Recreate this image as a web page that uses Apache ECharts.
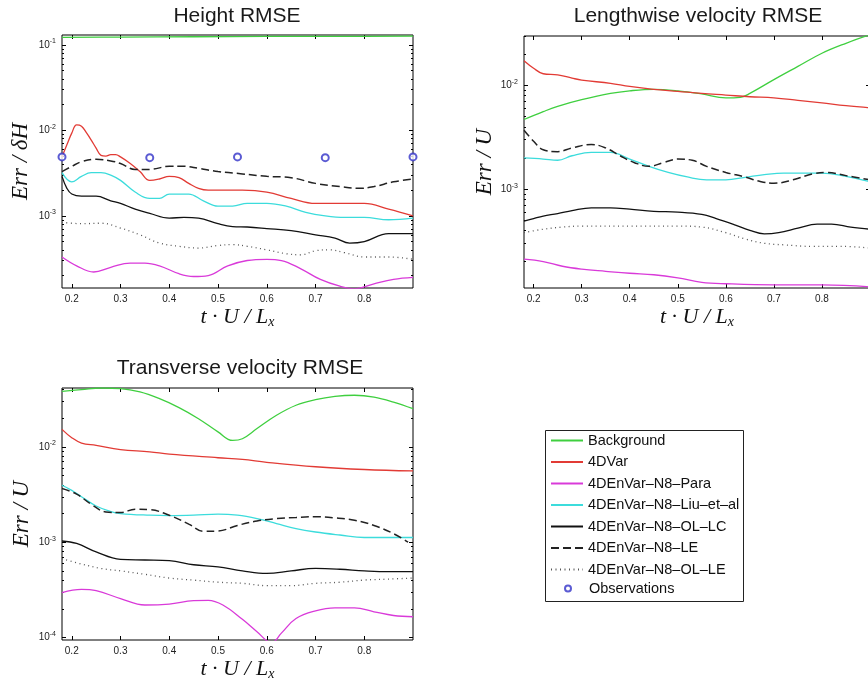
<!DOCTYPE html>
<html>
<head>
<meta charset="utf-8"/>
<title>RMSE</title>
<style>
    html, body { margin: 0; padding: 0; background: #fff; overflow: hidden; }
    #main { width: 880px; height: 685px; }
</style>
</head>
<body>
<div id="main"></div>
<script src="https://cdn.jsdelivr.net/npm/echarts@6/dist/echarts.min.js"></script>
<script>
    // series names, same order in every panel
    var names = ['Background', '4DVar', '4DEnVar–N8–Para', '4DEnVar–N8–Liu–et–al',
        '4DEnVar–N8–OL–LC', '4DEnVar–N8–LE', '4DEnVar–N8–OL–LE', 'Observations'];
    var xTicks = [0.2, 0.3, 0.4, 0.5, 0.6, 0.7, 0.8];

    // ---- Height RMSE  [t*U/Lx, Err/dH] ----
    var hBack = [[0.18,0.123],[0.30,0.124],[0.45,0.125],[0.60,0.126],[0.75,0.126],[0.90,0.127]];
    var hVar = [[0.18,0.0049],[0.19,0.0068],[0.20,0.0093],[0.21,0.0116],[0.22,0.0112],[0.23,0.0094],[0.24,0.0077],[0.25,0.0062],[0.26,0.0051],[0.27,0.0050],[0.28,0.0052],[0.29,0.0052],[0.30,0.0049],[0.32,0.0041],[0.34,0.0033],[0.36,0.0026],[0.38,0.0027],[0.40,0.0029],[0.42,0.0028],[0.44,0.0024],[0.46,0.0021],[0.48,0.0020],[0.50,0.0020],[0.55,0.0020],[0.60,0.0019],[0.65,0.0016],[0.70,0.0014],[0.75,0.0014],[0.80,0.0014],[0.85,0.0012],[0.90,0.0010]];
    var hPara = [[0.18,0.00033],[0.21,0.00026],[0.245,0.00022],[0.28,0.00025],[0.32,0.00028],[0.35,0.00028],[0.38,0.00026],[0.42,0.00021],[0.45,0.000195],[0.48,0.00020],[0.52,0.00026],[0.56,0.00030],[0.60,0.00031],[0.63,0.00030],[0.67,0.00024],[0.71,0.00018],[0.75,0.00015],[0.78,0.00014],[0.82,0.00016],[0.86,0.00018],[0.90,0.00019]];
    var hLiu = [[0.18,0.0032],[0.20,0.0025],[0.22,0.0029],[0.24,0.0032],[0.26,0.0032],[0.28,0.0030],[0.30,0.0026],[0.33,0.0019],[0.36,0.0016],[0.38,0.0016],[0.40,0.0018],[0.42,0.0018],[0.44,0.0018],[0.47,0.0015],[0.50,0.0013],[0.53,0.0013],[0.56,0.0014],[0.60,0.0014],[0.64,0.0013],[0.68,0.0011],[0.72,0.0010],[0.76,0.00096],[0.80,0.00096],[0.85,0.00090],[0.90,0.00094]];
    var hOLLC = [[0.18,0.0029],[0.19,0.0021],[0.20,0.0018],[0.22,0.0017],[0.25,0.0017],[0.28,0.0015],[0.30,0.0014],[0.33,0.0012],[0.36,0.00107],[0.40,0.00094],[0.43,0.00096],[0.46,0.00094],[0.50,0.00081],[0.53,0.00075],[0.56,0.00074],[0.60,0.00071],[0.65,0.00067],[0.70,0.00060],[0.74,0.00055],[0.77,0.00048],[0.80,0.00050],[0.85,0.00062],[0.90,0.00062]];
    var hLE = [[0.18,0.0033],[0.20,0.0038],[0.22,0.0043],[0.25,0.0046],[0.28,0.0044],[0.30,0.0041],[0.33,0.0035],[0.36,0.0035],[0.40,0.0038],[0.43,0.0038],[0.46,0.0036],[0.50,0.0033],[0.55,0.0031],[0.60,0.0029],[0.65,0.0028],[0.70,0.0024],[0.75,0.0022],[0.79,0.0021],[0.82,0.0022],[0.86,0.0025],[0.90,0.0027]];
    var hOLLE = [[0.18,0.00084],[0.22,0.00081],[0.26,0.00082],[0.30,0.00072],[0.34,0.00060],[0.38,0.00048],[0.42,0.00044],[0.46,0.00042],[0.50,0.00045],[0.53,0.00046],[0.56,0.00044],[0.60,0.00040],[0.64,0.00036],[0.67,0.00035],[0.70,0.00039],[0.73,0.00040],[0.76,0.00037],[0.80,0.00033],[0.85,0.00033],[0.90,0.00031]];
    var hObs = [[0.18,0.0049],[0.36,0.0048],[0.54,0.0049],[0.72,0.0048],[0.90,0.0049]];

    // ---- Lengthwise velocity RMSE  [t*U/Lx, Err/U] ----
    var uBack = [[0.18,0.0047],[0.22,0.0056],[0.25,0.0063],[0.30,0.0073],[0.36,0.0084],[0.40,0.0089],[0.45,0.0092],[0.50,0.0089],[0.55,0.0083],[0.60,0.0076],[0.63,0.0077],[0.65,0.0084],[0.70,0.0114],[0.75,0.0153],[0.80,0.0205],[0.85,0.0256],[0.90,0.031]];
    var uVar = [[0.18,0.0174],[0.20,0.0147],[0.22,0.0130],[0.25,0.0127],[0.28,0.0118],[0.30,0.0113],[0.36,0.0105],[0.40,0.0098],[0.45,0.0092],[0.50,0.0088],[0.55,0.0084],[0.60,0.0081],[0.65,0.0078],[0.70,0.0076],[0.75,0.0072],[0.80,0.0068],[0.85,0.0064],[0.90,0.0061]];
    var uPara = [[0.18,0.000211],[0.22,0.000200],[0.26,0.000180],[0.30,0.000169],[0.35,0.000161],[0.40,0.000154],[0.45,0.000149],[0.50,0.000139],[0.55,0.000126],[0.60,0.000122],[0.70,0.000119],[0.80,0.000119],[0.90,0.000114]];
    var uLiu = [[0.18,0.0020],[0.22,0.00195],[0.25,0.0019],[0.28,0.0021],[0.32,0.00226],[0.36,0.00226],[0.40,0.00195],[0.44,0.00166],[0.48,0.00145],[0.52,0.00131],[0.56,0.00123],[0.60,0.00123],[0.64,0.0013],[0.68,0.00138],[0.72,0.00143],[0.76,0.00143],[0.80,0.00143],[0.85,0.00133],[0.90,0.00118]];
    var uOLLC = [[0.18,0.00049],[0.20,0.00052],[0.22,0.00055],[0.25,0.00058],[0.28,0.00062],[0.32,0.00066],[0.36,0.00066],[0.40,0.00064],[0.45,0.00061],[0.50,0.00060],[0.55,0.00057],[0.58,0.00052],[0.62,0.00045],[0.65,0.00040],[0.68,0.00037],[0.71,0.00038],[0.75,0.00042],[0.79,0.00046],[0.82,0.00046],[0.86,0.00043],[0.90,0.00041]];
    var uLE = [[0.18,0.0037],[0.20,0.0029],[0.22,0.0024],[0.25,0.0023],[0.28,0.0025],[0.32,0.0027],[0.35,0.0025],[0.38,0.0021],[0.41,0.0018],[0.44,0.00166],[0.47,0.0018],[0.50,0.00195],[0.53,0.0019],[0.56,0.00166],[0.60,0.00145],[0.64,0.00131],[0.67,0.00119],[0.70,0.00114],[0.74,0.00123],[0.78,0.0014],[0.81,0.00145],[0.85,0.00135],[0.90,0.00123]];
    var uOLLE = [[0.18,0.00038],[0.22,0.00041],[0.26,0.00043],[0.30,0.00044],[0.40,0.00044],[0.50,0.00044],[0.55,0.00043],[0.60,0.00038],[0.64,0.00033],[0.68,0.00030],[0.72,0.00029],[0.78,0.00028],[0.84,0.00028],[0.90,0.00027]];

    // ---- Transverse velocity RMSE  [t*U/Lx, Err/U] ----
    var vBack = [[0.18,0.0384],[0.22,0.040],[0.26,0.0416],[0.30,0.041],[0.34,0.0378],[0.38,0.0321],[0.42,0.0259],[0.46,0.0198],[0.50,0.0144],[0.53,0.0117],[0.55,0.0122],[0.58,0.0156],[0.62,0.0215],[0.66,0.0274],[0.70,0.0314],[0.74,0.034],[0.78,0.0349],[0.82,0.0334],[0.86,0.0296],[0.90,0.0252]];
    var vVar = [[0.18,0.0153],[0.20,0.0125],[0.22,0.0110],[0.25,0.0104],[0.30,0.0094],[0.36,0.0089],[0.40,0.0084],[0.50,0.0077],[0.55,0.0074],[0.60,0.0069],[0.70,0.0062],[0.80,0.0058],[0.90,0.0056]];
    var vPara = [[0.18,0.000296],[0.22,0.00032],[0.25,0.00031],[0.30,0.000256],[0.35,0.000219],[0.40,0.000224],[0.45,0.000243],[0.48,0.000245],[0.51,0.000219],[0.55,0.000155],[0.58,0.000115],[0.61,0.000088],[0.63,0.000111],[0.66,0.000158],[0.70,0.00019],[0.74,0.000204],[0.78,0.000204],[0.82,0.000186],[0.86,0.00017],[0.90,0.000165]];
    var vLiu = [[0.18,0.00396],[0.20,0.0035],[0.22,0.0030],[0.25,0.0024],[0.28,0.0021],[0.30,0.0020],[0.36,0.00192],[0.40,0.0019],[0.45,0.00192],[0.50,0.00197],[0.54,0.00192],[0.58,0.00177],[0.62,0.00157],[0.66,0.00139],[0.70,0.00128],[0.75,0.00119],[0.80,0.00112],[0.85,0.00112],[0.90,0.00112]];
    var vOLLC = [[0.18,0.00103],[0.21,0.00097],[0.25,0.00079],[0.30,0.00066],[0.35,0.00065],[0.40,0.00064],[0.45,0.00058],[0.50,0.00055],[0.55,0.00050],[0.60,0.00047],[0.65,0.00050],[0.70,0.00053],[0.75,0.00052],[0.80,0.00050],[0.85,0.00049],[0.90,0.00049]];
    var vLE = [[0.18,0.00366],[0.21,0.0032],[0.24,0.0025],[0.27,0.00208],[0.30,0.00205],[0.33,0.00222],[0.36,0.0022],[0.40,0.00192],[0.44,0.00155],[0.47,0.0013],[0.50,0.00131],[0.54,0.0015],[0.58,0.00167],[0.62,0.00177],[0.66,0.00182],[0.70,0.00185],[0.74,0.0018],[0.78,0.0017],[0.82,0.0015],[0.86,0.00123],[0.89,0.0010]];
    var vOLLE = [[0.18,0.00067],[0.22,0.00059],[0.26,0.00053],[0.30,0.00050],[0.35,0.00046],[0.40,0.00042],[0.45,0.00040],[0.50,0.00038],[0.55,0.00037],[0.60,0.00035],[0.65,0.00035],[0.70,0.00037],[0.75,0.00038],[0.80,0.00040],[0.85,0.00041],[0.90,0.00042]];

    var colors = ['#3fcf3f', '#e23b35', '#d93ad9', '#3cdcdc', '#111111', '#222222', '#555555'];
    var dashes = ['solid', 'solid', 'solid', 'solid', 'solid', [8, 4], [1, 3.5]];

    var panels = [
        {title: 'Height RMSE', tx: 237, ty: 6, left: 62, top: 35, width: 351, height: 253,
            ymin: 1.43e-4, ymax: 0.131, yname: 'Err / δH', ygap: 30,
            data: [hBack, hVar, hPara, hLiu, hOLLC, hLE, hOLLE], obs: hObs},
        {title: 'Lengthwise velocity RMSE', tx: 698, ty: 6, left: 524, top: 36, width: 346, height: 252,
            ymin: 1.11e-4, ymax: 0.0301, yname: 'Err / U', ygap: 21,
            data: [uBack, uVar, uPara, uLiu, uOLLC, uLE, uOLLE]},
        {title: 'Transverse velocity RMSE', tx: 240, ty: 358, left: 62, top: 388, width: 351, height: 252,
            ymin: 9.4e-5, ymax: 0.0416, yname: 'Err / U', ygap: 29,
            data: [vBack, vVar, vPara, vLiu, vOLLC, vLE, vOLLE]}
    ];

    function lg(v) { return Math.log(v) / Math.LN10; }

    // minor tick positions of a log axis (2..9 x 10^n), in log10 units
    function minorTicks(lo, hi) {
        var out = [];
        for (var n = -6; n <= 1; n++) {
            for (var k = 1; k <= 9; k++) {
                var v = lg(k) + n;
                if (v > lg(lo) && v < lg(hi)) out.push(v);
            }
        }
        return out;
    }
    function majorTicks(lo, hi) {
        var out = [];
        for (var n = -6; n <= 1; n++) {
            if (n > lg(lo) && n < lg(hi)) out.push(n);
        }
        return out;
    }

    var labelFont = 'Liberation Sans, Arial, sans-serif';
    var mathFont = 'Liberation Serif, DejaVu Serif, serif';

    var title = [], grid = [], xAxis = [], yAxis = [], series = [];

    panels.forEach(function (p, i) {
        title.push({
            text: p.title, left: p.tx, top: p.ty, textAlign: 'center', padding: 0,
            textStyle: {fontFamily: labelFont, fontSize: 21, fontWeight: 'normal', color: '#1a1a1a'}
        });
        grid.push({
            left: p.left, top: p.top, width: p.width, height: p.height,
            show: true, borderColor: '#000', borderWidth: 1, backgroundColor: 'transparent'
        });

        var tickStyle = {color: '#000', width: 1};
        // x axes: bottom with labels, top with ticks only
        xAxis.push({
            type: 'value', gridIndex: i, position: 'bottom', min: 0.18, max: 0.9,
            axisLine: {show: false}, splitLine: {show: false},
            axisTick: {inside: true, length: 4, customValues: xTicks, lineStyle: tickStyle},
            axisLabel: {customValues: xTicks, margin: 6, fontSize: 10, color: '#222', fontFamily: labelFont,
                formatter: function (v) { return v.toFixed(1); }},
            name: '{m|t · U / L}{s|x}', nameLocation: 'middle', nameGap: 17,
            nameTextStyle: {
                rich: {
                    m: {fontFamily: mathFont, fontStyle: 'italic', fontSize: 22, lineHeight: 24, color: '#111'},
                    s: {fontFamily: mathFont, fontStyle: 'italic', fontSize: 14, lineHeight: 14, verticalAlign: 'bottom', color: '#111'}
                }
            }
        });
        xAxis.push({
            type: 'value', gridIndex: i, position: 'top', min: 0.18, max: 0.9,
            axisLine: {show: false}, splitLine: {show: false},
            axisTick: {inside: true, length: 4, customValues: xTicks, lineStyle: tickStyle},
            axisLabel: {show: false}
        });

        // y axes: log axis carrying the data + labels, then tick-only axes
        yAxis.push({
            type: 'log', gridIndex: i, position: 'left', min: p.ymin, max: p.ymax,
            axisLine: {show: false}, splitLine: {show: false}, minorTick: {show: false},
            axisTick: {inside: true, length: 4, lineStyle: tickStyle},
            axisLabel: {
                margin: 6, showMinLabel: false, showMaxLabel: false,
                formatter: function (v) {
                    var e = lg(v);
                    if (Math.abs(e - Math.round(e)) > 1e-6) return '';
                    return '{b|10}{s|' + Math.round(e) + '}';
                },
                rich: {
                    b: {fontSize: 10, lineHeight: 14, color: '#222', fontFamily: labelFont},
                    s: {fontSize: 7, lineHeight: 8, verticalAlign: 'top', color: '#222', fontFamily: labelFont}
                }
            },
            name: p.yname, nameLocation: 'middle', nameRotate: 90, nameGap: p.ygap,
            nameTextStyle: {fontFamily: mathFont, fontStyle: 'italic', fontSize: 23, color: '#111'}
        });
        var lo = lg(p.ymin), hi = lg(p.ymax);
        yAxis.push({
            type: 'value', gridIndex: i, position: 'left', min: lo, max: hi,
            axisLine: {show: false}, splitLine: {show: false}, axisLabel: {show: false},
            axisTick: {inside: true, length: 2, customValues: minorTicks(p.ymin, p.ymax), lineStyle: tickStyle}
        });
        yAxis.push({
            type: 'value', gridIndex: i, position: 'right', min: lo, max: hi,
            axisLine: {show: false}, splitLine: {show: false}, axisLabel: {show: false},
            axisTick: {inside: true, length: 2, customValues: minorTicks(p.ymin, p.ymax), lineStyle: tickStyle}
        });
        yAxis.push({
            type: 'value', gridIndex: i, position: 'right', min: lo, max: hi,
            axisLine: {show: false}, splitLine: {show: false}, axisLabel: {show: false},
            axisTick: {inside: true, length: 4, customValues: majorTicks(p.ymin, p.ymax), lineStyle: tickStyle}
        });

        p.data.forEach(function (d, k) {
            series.push({
                name: names[k], type: 'line', xAxisIndex: i * 2, yAxisIndex: i * 4,
                data: d, symbol: 'none', smooth: 0.4, clip: true,
                lineStyle: {color: colors[k], width: k === 5 ? 1.5 : 1.3, type: dashes[k]},
                itemStyle: {color: colors[k]}, z: 2 + k
            });
        });
        if (p.obs) {
            series.push({
                name: names[7], type: 'scatter', xAxisIndex: i * 2, yAxisIndex: i * 4,
                data: p.obs, symbol: 'emptyCircle', symbolSize: 7, clip: false,
                itemStyle: {color: '#3232c8', borderColor: '#3232c8', borderWidth: 1.3}, z: 20
            });
        }
    });

    var legendText = {fontFamily: labelFont, fontSize: 14.5, lineHeight: 14, color: '#111'};

    var option = {
        animation: false,
        backgroundColor: '#fff',
        title: title,
        grid: grid,
        xAxis: xAxis,
        yAxis: yAxis,
        series: series,
        legend: [
            {
                // line samples only: hide the default symbol drawn on the line
                data: names.slice(0, 7), orient: 'vertical', left: 543, top: 433, padding: [0, 0, 0, 7],
                itemWidth: 32, itemHeight: 14, itemGap: 6.5, selectedMode: false,
                itemStyle: {opacity: 0},
                textStyle: legendText
            },
            {
                data: [names[7]], orient: 'vertical', left: 557, top: 581, padding: [0, 0, 0, 7],
                itemWidth: 32, itemHeight: 6, selectedMode: false,
                textStyle: legendText
            }
        ],
        graphic: [{
            type: 'rect', left: 543, top: 428, silent: true,
            shape: {width: 198, height: 171},
            style: {fill: 'none', stroke: '#222', lineWidth: 1}
        }]
    };

    var myChart = echarts.init(document.getElementById('main'), null, {renderer: 'canvas'});
    myChart.setOption(option);
</script>
</body>
</html>
